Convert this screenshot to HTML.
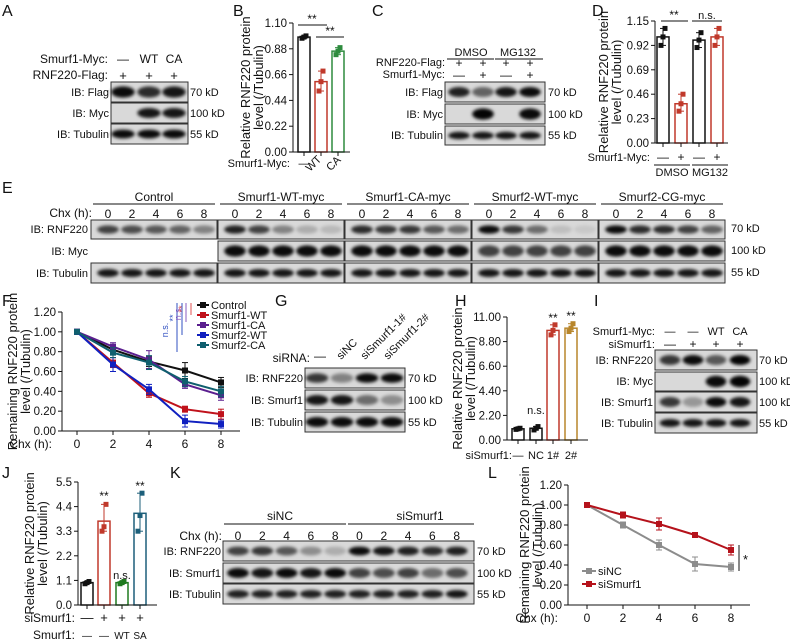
<!DOCTYPE html>
<html><head><meta charset="utf-8">
<style>
html,body{margin:0;padding:0;background:#fff;}
svg{display:block;font-family:"Liberation Sans",Arial,sans-serif;}
</style></head>
<body>
<svg id="fig" width="790" height="640" viewBox="0 0 790 640" xmlns="http://www.w3.org/2000/svg">
<defs><filter id="bl" x="-30%" y="-80%" width="160%" height="260%"><feGaussianBlur stdDeviation="1.6"/></filter></defs>
</svg>
<script>
// ---------- DATA ----------
const bCats=["—","WT","CA"], bVals=[0.98,0.60,0.86], bPts=[[0.97,0.98,0.99],[0.52,0.60,0.69],[0.83,0.86,0.89]], bTicks=[0,0.22,0.44,0.66,0.88,1.10];
const dVals=[1.0,0.37,0.97,1.0], dPts=[[0.92,1.0,1.08],[0.30,0.37,0.46],[0.90,0.97,1.04],[0.92,1.0,1.08]], dTicks=[0,0.23,0.46,0.69,0.92,1.15];
const hVals=[1.0,1.05,9.8,10.0], hPts=[[0.95,1.0,1.05],[0.9,1.05,1.2],[9.4,9.8,10.3],[9.7,10.0,10.4]], hTicks=[0,2.2,4.4,6.6,8.8,11.0];
const jVals=[1.0,3.75,1.0,4.1], jPts=[[0.95,1.0,1.05],[3.3,3.5,4.5],[0.95,1.0,1.05],[3.3,4.0,5.0]], jTicks=[0,1.1,2.2,3.3,4.4,5.5];
const chx=[0,2,4,6,8];
const fNames=["Control","Smurf1-WT","Smurf1-CA","Smurf2-WT","Smurf2-CA"];
const fSeries=[[1,0.82,0.70,0.61,0.49],[1,0.69,0.38,0.22,0.17],[1,0.85,0.72,0.47,0.36],[1,0.67,0.42,0.10,0.07],[1,0.79,0.69,0.50,0.40]];
const fErr=[[0,0.05,0.05,0.08,0.05],[0,0.05,0.04,0.03,0.05],[0,0.04,0.09,0.04,0.05],[0,0.07,0.05,0.06,0.04],[0,0.05,0.07,0.05,0.05]];
const fTicks=[0,0.2,0.4,0.6,0.8,1.0,1.2];
const lNames=["siNC","siSmurf1"], lSeries=[[1,0.80,0.60,0.41,0.38],[1,0.90,0.81,0.70,0.55]], lErr=[[0,0.03,0.05,0.07,0.04],[0,0.03,0.06,0.01,0.05]];

const NS="http://www.w3.org/2000/svg", svg=document.getElementById('fig');
function mk(tag,a,name,p){const e=document.createElementNS(NS,tag);for(const k in a)e.setAttribute(k,a[k]);


(p||svg).appendChild(e);return e;}
function tx(x,y,s,name,o){o=o||{};const a={x:x,y:y,'font-size':o.fs||11,fill:o.fill||'#111','text-anchor':o.anc||'start'};if(o.rot)a.transform=`rotate(${o.rot} ${x} ${y})`;const e=mk('text',a,name);e.textContent=s;return e;}
function ln(x1,y1,x2,y2,name,c,w){return mk('line',{x1,y1,x2,y2,stroke:c||'#111','stroke-width':w||1},name);}
function blot(x,y,w,h,lanes,ints,name,thick){const g=mk('g',{},name);
mk('rect',{x,y,width:w,height:h,fill:'#d9d9d9',stroke:'#333','stroke-width':1},'blot-frame',g);
const sp=lanes.length>1?lanes[1]-lanes[0]:20;
lanes.forEach((cx,i)=>{if(ints[i]<=0)return;mk('ellipse',{cx,cy:y+h/2,rx:sp*0.45,ry:h*(thick||0.2),fill:'#000','fill-opacity':ints[i],filter:'url(#bl)'},'band',g);});}
function lane(x0,n,sp){const a=[];for(let i=0;i<n;i++)a.push(x0+i*sp);return a;}

// ---------- PANEL LABELS ----------
[["A",2,16],["B",233,16],["C",372,16],["D",592,16],["E",2,193],["F",2,306],["G",275,306],["H",455,306],["I",594,306],["J",2,478],["K",170,478],["L",488,478]].forEach(p=>tx(p[1],p[2],p[0],'panel-label-'+p[0],{fs:16}));

// ---------- A ----------
const aL=[123,149,174];
tx(108,63,"Smurf1-Myc:",'row-label',{anc:'end',fs:12});tx(108,79,"RNF220-Flag:",'row-label',{anc:'end',fs:12});
["—","WT","CA"].forEach((s,i)=>tx(aL[i],63,s,'lane-label',{anc:'middle',fs:12}));
aL.forEach(x=>tx(x,80,"+",'lane-label',{anc:'middle',fs:13}));
blot(111,82,77,20,aL,[0.95,0.8,0.9],'blot-a-flag',0.28);blot(111,103,77,20,aL,[0,0.9,0.9],'blot-a-myc',0.25);blot(111,124,77,20,aL,[0.95,0.95,0.95],'blot-a-tubulin',0.22);
[["IB: Flag",96],["IB: Myc",117],["IB: Tubulin",138]].forEach(r=>tx(109,r[1],r[0],'ib-label',{anc:'end'}));
[["70 kD",96],["100 kD",117],["55 kD",138]].forEach(r=>tx(190,r[1],r[0],'kd-label'));

// ---------- generic bar chart ----------
function barChart(o){const g=mk('g',{},o.name);const sy=v=>o.y0-(v/o.max)*(o.y0-o.y1);
ln(o.ax,o.y0,o.ax,o.y1,'y-axis');ln(o.ax,o.y0,o.axEnd,o.y0,'x-axis');
o.ticks.forEach(t=>{ln(o.ax-4,sy(t),o.ax,sy(t),'y-tick');tx(o.ax-6,sy(t)+4,t.toFixed(o.dec),'y-tick-label',{anc:'end',fs:11.5});});
o.vals.forEach((v,i)=>{const cx=o.cx[i],c=o.colors[i];ln(cx,o.y0,cx,o.y0+4,'x-tick');
mk('rect',{x:cx-o.bw/2,y:sy(v),width:o.bw,height:o.y0-sy(v),fill:'#fff',stroke:c,'stroke-width':1.5},'bar',g);
const p=o.pts[i],lo=Math.min(...p),hi=Math.max(...p);ln(cx,sy(lo),cx,sy(hi),'error-bar',c);ln(cx-3,sy(hi),cx+3,sy(hi),'error-cap',c);ln(cx-3,sy(lo),cx+3,sy(lo),'error-cap',c);
p.forEach((q,j)=>mk('rect',{x:cx-2.5+(j-1)*2,y:sy(q)-2.5,width:5,height:5,fill:c},'data-point',g));});
tx(o.lx,(o.y0+o.y1)/2,"Relative RNF220 protein",'y-axis-title',{anc:'middle',rot:-90,fs:13});
tx(o.lx+13,(o.y0+o.y1)/2,"level (/Tubulin)",'y-axis-title',{anc:'middle',rot:-90,fs:13});return sy;}

// ---------- B ----------
const sB=barChart({name:'chart-b',ax:293,axEnd:350,y0:152,y1:23,max:1.1,ticks:bTicks,dec:2,cx:[304,321,338],vals:bVals,pts:bPts,bw:12,colors:['#111','#c0392b','#2e8b3e'],lx:250});
ln(298,25,327,25,'sig-line');tx(312,23,"**",'sig-label',{anc:'middle',fs:12});ln(316,37,344,37,'sig-line');tx(330,35,"**",'sig-label',{anc:'middle',fs:12});
tx(290,167,"Smurf1-Myc:",'x-axis-title',{anc:'end'});tx(304,167,"—",'x-tick-label',{anc:'middle'});
tx(316,166,"WT",'x-tick-label',{anc:'middle',rot:-45});tx(336,166,"CA",'x-tick-label',{anc:'middle',rot:-45});

// ---------- C ----------
const cL=[459,483,506,530];
tx(471,56,"DMSO",'group-label',{anc:'middle'});tx(518,56,"MG132",'group-label',{anc:'middle'});ln(447,59,494,59,'group-line');ln(495,59,543,59,'group-line');
tx(445,66,"RNF220-Flag:",'row-label',{anc:'end',fs:11});tx(445,78,"Smurf1-Myc:",'row-label',{anc:'end',fs:11});
cL.forEach((x,i)=>{tx(x,67,"+",'lane-label',{anc:'middle',fs:12});tx(x,79,i%2?"+":"—",'lane-label',{anc:'middle',fs:12});});
blot(445,82,100,20,cL,[0.85,0.55,0.9,0.95],'blot-c-flag',0.25);blot(445,104,100,20,cL,[0,0.98,0,0.95],'blot-c-myc',0.28);blot(445,126,100,19,cL,[0.9,0.9,0.9,0.9],'blot-c-tubulin',0.2);
[["IB: Flag",96],["IB: Myc",118],["IB: Tubulin",139]].forEach(r=>tx(443,r[1],r[0],'ib-label',{anc:'end'}));
[["70 kD",96],["100 kD",118],["55 kD",139]].forEach(r=>tx(548,r[1],r[0],'kd-label'));

// ---------- D ----------
const sD=barChart({name:'chart-d',ax:655,axEnd:728,y0:143,y1:21,max:1.15,ticks:dTicks,dec:2,cx:[663,681,699,717],vals:dVals,pts:dPts,bw:12,colors:['#111','#c0392b','#111','#c0392b'],lx:608});
ln(661,21,688,21,'sig-line');tx(674,19,"**",'sig-label',{anc:'middle',fs:12});ln(692,21,722,21,'sig-line');tx(707,19,"n.s.",'sig-label',{anc:'middle',fs:11});
tx(650,161,"Smurf1-Myc:",'x-axis-title',{anc:'end'});[663,681,699,717].forEach((x,i)=>tx(x,161,i%2?"+":"—",'x-tick-label',{anc:'middle',fs:12}));
ln(654,165,690,165,'group-line');ln(692,165,728,165,'group-line');tx(672,176,"DMSO",'group-label',{anc:'middle'});tx(710,176,"MG132",'group-label',{anc:'middle'});

// ---------- E ----------
const eGroups=["Control","Smurf1-WT-myc","Smurf1-CA-myc","Smurf2-WT-myc","Smurf2-CG-myc"];
const eRNF=[[0.7,0.65,0.6,0.55,0.4],[0.85,0.7,0.4,0.2,0.15],[0.8,0.75,0.75,0.6,0.5],[0.95,0.75,0.5,0.12,0.08],[0.95,0.8,0.8,0.7,0.55]];
tx(92,217,"Chx (h):",'row-label',{anc:'end',fs:12});
eGroups.forEach((gname,i)=>{const x=91+i*127,L=lane(x+17,5,24);
tx(x+63,201,gname,'group-label',{anc:'middle',fs:12});ln(x+2,204,x+124,204,'group-line');
chx.forEach((c,j)=>tx(L[j],218,String(c),'lane-label',{anc:'middle',fs:12}));
blot(x,220,126,19,L,eRNF[i],'blot-e-rnf220',0.22);
if(i>0)blot(x,241,126,20,L,[0.95,0.95,0.95,0.95,0.95].map(v=>i==3?0.7:v),'blot-e-myc',0.28);
blot(x,263,126,20,L,[0.9,0.9,0.9,0.9,0.9],'blot-e-tubulin',0.2);});
tx(88,233,"IB: RNF220",'ib-label',{anc:'end'});tx(88,255,"IB: Myc",'ib-label',{anc:'end'});tx(88,277,"IB: Tubulin",'ib-label',{anc:'end'});
tx(731,232,"70 kD",'kd-label');tx(731,254,"100 kD",'kd-label');tx(731,276,"55 kD",'kd-label');

// ---------- line chart helper ----------
function lineChart(o){const sy=v=>o.y0-(v/o.max)*(o.y0-o.y1),sx=v=>o.x0+v*o.dx;
ln(o.ax,o.y0,o.ax,o.y1,'y-axis');ln(o.ax,o.y0,o.axEnd,o.y0,'x-axis');
o.ticks.forEach(t=>{ln(o.ax-4,sy(t),o.ax,sy(t),'y-tick');tx(o.ax-6,sy(t)+4,t.toFixed(2),'y-tick-label',{anc:'end',fs:11.5});});
chx.forEach(c=>{ln(sx(c),o.y0,sx(c),o.y0+4,'x-tick');tx(sx(c),o.y0+17,String(c),'x-tick-label',{anc:'middle',fs:12});});
tx(o.ax-10,o.y0+17,"Chx (h):",'x-axis-title',{anc:'end',fs:12});
o.series.forEach((s,k)=>{const c=o.colors[k],g=mk('g',{},'series-'+o.names[k]);
mk('polyline',{points:s.map((v,j)=>sx(chx[j])+','+sy(v)).join(' '),fill:'none',stroke:c,'stroke-width':2},'series-line',g);
s.forEach((v,j)=>{const e=o.err[k][j];if(e>0){ln(sx(chx[j]),sy(v-e),sx(chx[j]),sy(v+e),'error-bar',c);ln(sx(chx[j])-3,sy(v+e),sx(chx[j])+3,sy(v+e),'error-cap',c);ln(sx(chx[j])-3,sy(v-e),sx(chx[j])+3,sy(v-e),'error-cap',c);}
mk('rect',{x:sx(chx[j])-3,y:sy(v)-3,width:6,height:6,fill:c},'data-point',g);});});
tx(o.lx,(o.y0+o.y1)/2,"Remaining RNF220 protein",'y-axis-title',{anc:'middle',rot:-90,fs:13});
tx(o.lx+13,(o.y0+o.y1)/2,"level (/Tubulin)",'y-axis-title',{anc:'middle',rot:-90,fs:13});}

// ---------- F ----------
const fColors=['#111','#c0121b','#5b1f8f','#1020c0','#0f5f6e'];
lineChart({ax:62,axEnd:240,y0:431,y1:312,max:1.2,x0:77,dx:18,ticks:fTicks,series:fSeries,err:fErr,colors:fColors,names:fNames,lx:17});
fNames.forEach((n,k)=>{const y=305+k*10;ln(197,y,209,y,'legend-line',fColors[k],2);mk('rect',{x:200,y:y-3,width:6,height:6,fill:fColors[k]},'legend-marker');tx(211,y+4,n,'legend-entry',{fs:11});});
[[177,'#3050c0',303,352],[182,'#3050c0',303,335],[186,'#8a5cc0',303,322],[191,'#e05050',303,315]].forEach(v=>ln(v[0],v[2],v[0],v[3],'sig-line',v[1]));
tx(168,330,"n.s.",'sig-label',{rot:-90,anc:'middle',fs:9,fill:'#3050c0'});tx(176,318,"**",'sig-label',{rot:-90,anc:'middle',fs:9,fill:'#3050c0'});
tx(181,313,"n.s.",'sig-label',{rot:-90,anc:'middle',fs:9,fill:'#8a5cc0'});tx(185,309,"**",'sig-label',{rot:-90,anc:'middle',fs:9,fill:'#e05050'});

// ---------- G ----------
const gL=[317,342,367,392];
tx(310,362,"siRNA:",'row-label',{anc:'end',fs:12});tx(320,360,"—",'lane-label',{anc:'middle',fs:12});
[["siNC",347],["siSmurf1-1#",371],["siSmurf1-2#",394]].forEach(r=>tx(r[1]-6,360,r[0],'lane-label',{rot:-45,fs:11}));
blot(305,368,100,20,gL,[0.75,0.4,0.95,0.95],'blot-g-rnf220',0.24);blot(305,390,100,20,gL,[0.9,0.9,0.5,0.35],'blot-g-smurf1',0.25);blot(305,412,100,20,gL,[0.95,0.95,0.95,0.95],'blot-g-tubulin',0.25);
tx(303,382,"IB: RNF220",'ib-label',{anc:'end'});tx(303,404,"IB: Smurf1",'ib-label',{anc:'end'});tx(303,426,"IB: Tubulin",'ib-label',{anc:'end'});
tx(408,382,"70 kD",'kd-label');tx(408,404,"100 kD",'kd-label');tx(408,426,"55 kD",'kd-label');

// ---------- H ----------
barChart({name:'chart-h',ax:507,axEnd:588,y0:440,y1:317,max:11,ticks:hTicks,dec:2,cx:[518,536,553,571],vals:hVals,pts:hPts,bw:12,colors:['#111','#111','#c0392b','#b8862b'],lx:462});
tx(536,414,"n.s.",'sig-label',{anc:'middle',fs:11});tx(553,322,"**",'sig-label',{anc:'middle',fs:12});tx(571,320,"**",'sig-label',{anc:'middle',fs:12});
tx(512,459,"siSmurf1:",'x-axis-title',{anc:'end'});["—","NC","1#","2#"].forEach((s,i)=>tx([518,536,553,571][i],459,s,'x-tick-label',{anc:'middle'}));

// ---------- I ----------
const iL=[670,693,716,740];
tx(655,335,"Smurf1-Myc:",'row-label',{anc:'end'});tx(655,348,"siSmurf1:",'row-label',{anc:'end'});
["—","—","WT","CA"].forEach((s,i)=>tx(iL[i],335,s,'lane-label',{anc:'middle'}));["—","+","+","+"].forEach((s,i)=>tx(iL[i],348,s,'lane-label',{anc:'middle',fs:12}));
blot(655,350,102,20,iL,[0.75,0.95,0.6,0.98],'blot-i-rnf220',0.25);blot(655,372,102,19,iL,[0,0,0.95,0.98],'blot-i-myc',0.3);blot(655,392,102,20,iL,[0.75,0.3,0.95,0.9],'blot-i-smurf1',0.25);blot(655,413,102,20,iL,[0.9,0.9,0.9,0.9],'blot-i-tubulin',0.2);
[["IB: RNF220",364],["IB: Myc",385],["IB: Smurf1",406],["IB: Tubulin",427]].forEach(r=>tx(653,r[1],r[0],'ib-label',{anc:'end'}));
[["70 kD",364],["100 kD",385],["100 kD",406],["55 kD",427]].forEach(r=>tx(759,r[1],r[0],'kd-label'));

// ---------- J ----------
barChart({name:'chart-j',ax:78,axEnd:157,y0:605,y1:482,max:5.5,ticks:jTicks,dec:1,cx:[87,104,122,140],vals:jVals,pts:jPts,bw:12,colors:['#111','#c0392b','#1f7a1f','#1d5f7a'],lx:34});
tx(104,500,"**",'sig-label',{anc:'middle',fs:12});tx(122,579,"n.s.",'sig-label',{anc:'middle',fs:11});tx(140,490,"**",'sig-label',{anc:'middle',fs:12});
tx(75,622,"siSmurf1:",'x-axis-title',{anc:'end',fs:12});tx(75,639,"Smurf1:",'x-axis-title',{anc:'end',fs:12});
["—","+","+","+"].forEach((s,i)=>tx([87,104,122,140][i],622,s,'x-tick-label',{anc:'middle',fs:13}));["—","—","WT","SA"].forEach((s,i)=>tx([87,104,122,140][i],639,s,'x-tick-label',{anc:'middle',fs:10}));

// ---------- K ----------
const kL=lane(238,10,24.3);
tx(280,520,"siNC",'group-label',{anc:'middle',fs:12});tx(420,520,"siSmurf1",'group-label',{anc:'middle',fs:12});ln(224,524,346,524,'group-line');ln(348,524,474,524,'group-line');
tx(222,540,"Chx (h):",'row-label',{anc:'end',fs:12});kL.forEach((x,i)=>tx(x,540,String(chx[i%5]),'lane-label',{anc:'middle',fs:12}));
blot(223,541,251,20,kL,[0.7,0.75,0.6,0.35,0.2,0.95,0.9,0.85,0.8,0.85],'blot-k-rnf220',0.22);
blot(223,563,251,20,kL,[0.95,0.9,0.95,0.9,0.95,0.7,0.65,0.7,0.5,0.65],'blot-k-smurf1',0.25);
blot(223,584,251,20,kL,[0.85,0.85,0.85,0.85,0.85,0.85,0.85,0.85,0.85,0.9],'blot-k-tubulin',0.2);
tx(221,555,"IB: RNF220",'ib-label',{anc:'end'});tx(221,577,"IB: Smurf1",'ib-label',{anc:'end'});tx(221,598,"IB: Tubulin",'ib-label',{anc:'end'});
tx(477,555,"70 kD",'kd-label');tx(477,577,"100 kD",'kd-label');tx(477,598,"55 kD",'kd-label');

// ---------- L ----------
const lColors=['#8c8c8c','#b5121b'];
lineChart({ax:568,axEnd:750,y0:605,y1:485,max:1.2,x0:587,dx:18,ticks:fTicks,series:lSeries,err:lErr,colors:lColors,names:lNames,lx:529});
lNames.forEach((n,k)=>{const y=571+k*13;ln(582,y,596,y,'legend-line',lColors[k],2);mk('rect',{x:586,y:y-3,width:6,height:6,fill:lColors[k]},'legend-marker');tx(598,y+4,n,'legend-entry');});
ln(739,545,739,571,'sig-line');tx(743,564,"*",'sig-label',{fs:13});
</script>
</body></html>
